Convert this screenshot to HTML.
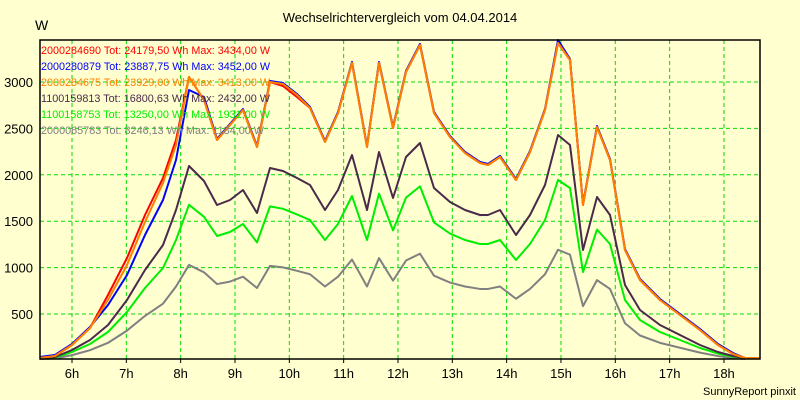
<!DOCTYPE html><html><head><style>body{margin:0;background:#ffffd0}svg{display:block}text{font-family:"Liberation Sans",sans-serif}</style></head><body>
<svg id="s" width="800" height="400" xmlns="http://www.w3.org/2000/svg">
<rect width="800" height="400" fill="#ffffd0"/>
<text x="400" y="22" font-size="13" text-anchor="middle">Wechselrichtervergleich vom 04.04.2014</text>
<text x="35" y="30" font-size="14">W</text>
<g id="grid" stroke="#00dd00" stroke-dasharray="4,3" stroke-width="1"></g>
<g id="lbl" font-size="13"></g>
<g id="ser" fill="none" stroke-width="2" stroke-linejoin="round"></g>
<rect x="40" y="40" width="720" height="319" fill="none" stroke="#000" stroke-width="1.5"/>
<g font-size="11">
<text x="41" y="54" fill="#ff0000" textLength="229" lengthAdjust="spacingAndGlyphs">2000284690 Tot: 24179,50 Wh Max: 3434,00 W</text>
<text x="41" y="70" fill="#0000ff" textLength="229" lengthAdjust="spacingAndGlyphs">2000280879 Tot: 23887,75 Wh Max: 3452,00 W</text>
<text x="41" y="86" fill="#ff8000" textLength="229" lengthAdjust="spacingAndGlyphs">2000284675 Tot: 23929,00 Wh Max: 3413,00 W</text>
<text x="41" y="102" fill="#4a2a4a" textLength="229" lengthAdjust="spacingAndGlyphs">1100159813 Tot: 16800,63 Wh Max: 2432,00 W</text>
<text x="41" y="118" fill="#00ee00" textLength="229" lengthAdjust="spacingAndGlyphs">1100158753 Tot: 13250,00 Wh Max: 1931,00 W</text>
<text x="41" y="134" fill="#808080" textLength="223" lengthAdjust="spacingAndGlyphs">2000065783 Tot: 8246,13 Wh Max: 1184,00 W</text>
</g>
<text x="796" y="395" font-size="11" text-anchor="end">SunnyReport pinxit</text>
</svg>
<script>
var NS="http://www.w3.org/2000/svg",g=document.getElementById('grid'),l=document.getElementById('lbl'),s=document.getElementById('ser');
function el(p,t,a,txt){var e=document.createElementNS(NS,t);for(var k in a)e.setAttribute(k,a[k]);if(txt)e.textContent=txt;p.appendChild(e);return e;}
for(var h=6;h<=18;h++){var x=72+(h-6)*54.33;el(g,'line',{x1:x,x2:x,y1:40,y2:359});el(l,'line',{x1:x,x2:x,y1:359,y2:363,stroke:'#000'});el(l,'text',{x:x,y:378,'text-anchor':'middle'},h+'h');}
for(var v=500;v<=3000;v+=500){var y=360.4-v*0.0928;el(g,'line',{x1:40,x2:760,y1:y,y2:y});el(l,'text',{x:33,y:y+5,'text-anchor':'end'},v);}
var X=[40,55,72,90,108,127,145,163,176,189,204,217,230,243,257,270,283,297,310,325,338,352,367,379,393,406,420,434,450,465,480,488,500,516,530,545,558,570,583,597,610,625,640,660,680,700,718,733,745];
var O=[358,356,345,328,300,265,222,183,145,77,100,140,125,110,147,82,84,95,108,142,113,63,147,63,128,72,45,113,137,153,163,165,157,180,152,110,43,60,205,127,160,250,280,300,315,330,345,354,358];
var D=[358,357,350,340,325,300,270,245,210,166,181,205,200,190,213,168,171,178,185,210,190,155,210,152,198,157,143,188,202,210,215,215,210,235,215,185,135,145,250,197,215,285,310,325,335,345,352,356,358];
var R=O.slice();R[4]=295;R[5]=258;R[6]=215;R[7]=178;R[8]=140;R[16]=86;R[17]=97;
var B=O.map(function(y){return y-1});B[6]=235;B[7]=200;B[8]=160;B[9]=90;B[10]=97;B[36]=40;B[5]=275;B[4]=305;B[48]=358;
function sc(a,f){return a.map(function(y){return 360-(360-y)*f});}
function pl(a,c,ext){var p=X.map(function(x,i){return x+','+a[i]});if(ext)p.push('760,358');el(s,'polyline',{points:p.join(' '),stroke:c});}
pl(sc(D,0.49),'#808080');pl(sc(D,0.8),'#00ee00');pl(D,'#4a2a4a');pl(B,'#0000ff');pl(R,'#ff0000');pl(O,'#ff8000',1);
</script></body></html>
